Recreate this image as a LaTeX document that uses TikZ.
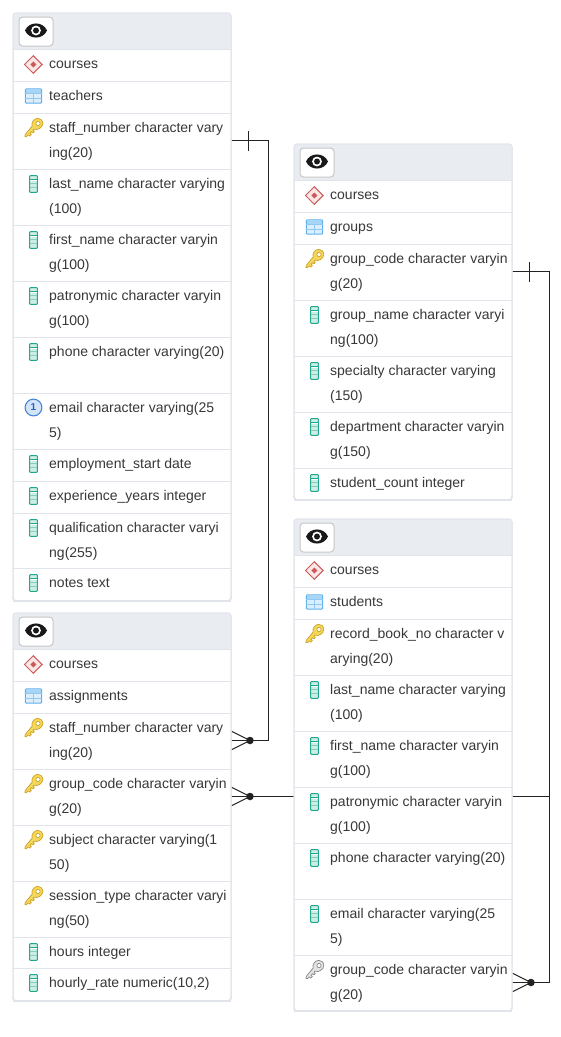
\documentclass[tikz,border=0pt]{standalone}
\usepackage{fontspec}
\setmainfont{Liberation Sans}
\definecolor{bord}{HTML}{E1E4EA}
\definecolor{head}{HTML}{E9ECF1}
\definecolor{txt}{HTML}{383838}
\definecolor{conn}{HTML}{222222}
\definecolor{teal}{HTML}{1FA88C}
\definecolor{tealL}{HTML}{CDEDE5}
\definecolor{redi}{HTML}{CC5A5A}
\definecolor{redL}{HTML}{FBE6E6}
\definecolor{bluei}{HTML}{5DB2EE}
\definecolor{blueL}{HTML}{DCEEFB}
\definecolor{uqb}{HTML}{4A86D8}
\definecolor{uqL}{HTML}{D3E4F8}
\definecolor{uqd}{HTML}{2A5FB8}
\definecolor{goldi}{HTML}{F3D65A}
\definecolor{goldd}{HTML}{CBA52C}
\definecolor{grayi}{HTML}{8A8A8A}
\definecolor{grayL}{HTML}{E2E2E2}
\tikzset{
  x=1pt,y=-1pt,
  rowcell/.style={inner sep=0pt,outer sep=0pt,minimum width=218pt,anchor=north west},
  rowtext/.style={inner sep=0pt,anchor=base west,text=txt,font=\fontsize{14}{14}\selectfont},
  conline/.style={draw=conn,line width=1pt},
  crow/.style={draw=conn,line width=1pt},
  dotn/.style={circle,fill=conn,inner sep=0pt,minimum size=7.5pt},
  tbl/.style={draw=bord,line width=1pt,fill=white,rounded corners=3pt},
}
% icons: #1 x centre, #2 y centre
\newcommand\icocol[2]{\begin{scope}[shift={(#1,#2)}]
 \draw[teal,line width=1pt,fill=tealL,rounded corners=.6pt] (-3.8,-8.3) rectangle (3.8,8.3);
 \fill[white] (-3.3,-4) rectangle (3.3,-2.6);
 \draw[teal,line width=.7pt] (-3.8,-4.6)--(3.8,-4.6);
 \draw[teal!55,line width=.6pt] (-3.8,-.6)--(3.8,-.6) (-3.8,3.4)--(3.8,3.4);
\end{scope}}
\newcommand\icoschema[2]{\begin{scope}[shift={(#1,#2)}]
 \draw[redi,line width=1pt,fill=redL] (-8.8,0)--(0,-8.8)--(8.8,0)--(0,8.8)--cycle;
 \fill[redi] (-3,0)--(0,-3)--(3,0)--(0,3)--cycle;
\end{scope}}
\newcommand\icotable[2]{\begin{scope}[shift={(#1,#2)}]
 \draw[bluei,line width=1pt,fill=blueL,rounded corners=1pt] (-8.2,-7.2) rectangle (8.2,7.2);
 \fill[bluei!55] (-7.7,-6.7) rectangle (7.7,-2.5);
 \draw[bluei!70,line width=.7pt] (-8.2,2)--(8.2,2) (-8.2,-2.5)--(8.2,-2.5) (0,-2.5)--(0,7);
\end{scope}}
\newcommand\icokey[4]{\begin{scope}[shift={(#1,#2)}]
 \draw[#4,line width=.7pt,fill=#3,line join=round]
   (-8.6,6.7)--(-9.2,8.8)--(-7.5,9.2)--(-5.6,7.3)--(-4.3,8.6)--(-2.6,7)--(-3.9,5.7)--(-2.4,4.2)--(-1,5.4)--(.3,4)--(-1,2.7)--(0,1.6)
   .. controls (3.5,3.4) and (8.8,-.2) .. (8.8,-3.8)
   .. controls (8.8,-7.2) and (6.5,-9.2) .. (3.8,-9.2)
   .. controls (-.4,-9.2) and (-3,-4.5) .. (-1.8,-1.6) -- cycle;
 \draw[#4,line width=.7pt,fill=white] (4,-4) circle (2.1);
\end{scope}}
\newcommand\icouniq[2]{\begin{scope}[shift={(#1,#2)}]
 \draw[uqb,line width=1.1pt,fill=uqL] (0,0) circle (8.4);
 \node[inner sep=0pt,text=uqd,font=\fontsize{10}{10}\bfseries\selectfont] (uq) at (0,0) {1};
\end{scope}}
% table box: name, x, y1, yhead, y2
\newcommand\tblbox[5]{
 \path[tbl] (#2,#3) rectangle (#2+218,#5);
 \begin{scope}
 \clip[rounded corners=3pt] (#2,#3) rectangle (#2+218,#5);
 \fill[head] (#2,#3) rectangle (#2+218,#4);
 \end{scope}
 \draw[bord,line width=1pt,rounded corners=3pt] (#2,#3) rectangle (#2+218,#5);
 \draw[bord,line width=1.6pt,rounded corners=3pt] (#2,#5-4)--(#2,#5)--(#2+218,#5)--(#2+218,#5-4);
 \draw[bord,line width=1pt] (#2,#4)--(#2+218,#4);
 \draw[fill=white,draw=black!22,line width=1pt,rounded corners=3.5pt] (#2+6,#3+4) rectangle (#2+40,#3+33);
 \begin{scope}[shift={(#2+23,#3+17.5)}]
  \fill[black!90] (-11,0) .. controls (-7,-9.4) and (7,-9.4) .. (11,0) .. controls (7,9.4) and (-7,9.4) .. (-11,0) -- cycle;
  \fill[white] (0,0) circle (4.9);
  \fill[black!90] (0,0) circle (3);
 \end{scope}
 \coordinate (#1) at (#2,#3);
}
% row: name, x, y1, y2, icon code, line1, line2
\newcommand\tblrow[7]{
 \node[rowcell,minimum height=#4pt-#3pt] (#1) at (#2,#3) {};
 \draw[bord,line width=1pt] (#2,#4)--(#2+218,#4);
 \node[rowtext] (#1-a) at (#2+36,#3+19.7) {#6};
 \node[rowtext] (#1-b) at (#2+36,#3+44.7) {#7};
 \begin{scope}[shift={(#2,#3)}] #5 \end{scope}
}
\newcommand\ICOL{\icocol{20.5}{15}}
\newcommand\ISCH{\icoschema{20.3}{15.5}}
\newcommand\ITAB{\icotable{20.5}{15}}
\newcommand\IKEY{\icokey{21}{14.5}{goldi}{goldd}}
\newcommand\IFK{\icokey{21}{14.5}{grayL}{grayi}}
\newcommand\IUQ{\icouniq{20.5}{14.5}}
\begin{document}
\begin{tikzpicture}
\useasboundingbox (0,0) rectangle (561,1037);
% anchors for connectors (table rows are placed over them)
\path (13,112.5) node[rowcell,minimum height=56pt] (t-staff) {};
\path (13,712.5) node[rowcell,minimum height=56pt] (a-staff) {};
\path (13,768.5) node[rowcell,minimum height=56pt] (a-group) {};
\path (294,243.5) node[rowcell,minimum height=56pt] (g-code) {};
\path (294,954.5) node[rowcell,minimum height=56pt] (s-group) {};
\coordinate (tcorner) at ([xshift=37pt]t-staff.east);
\coordinate (gcorner) at ([xshift=37pt]g-code.east);
\node[dotn] (d1) at ([xshift=19pt]a-staff.east) {};
\node[dotn] (d2) at ([xshift=19pt]a-group.east) {};
\node[dotn] (d3) at ([xshift=19pt]s-group.east) {};
% connectors, behind the tables
\draw[conline] (t-staff.east) -- (tcorner) |- (d1.center);
\draw[conline] (g-code.east) -- (gcorner) |- (d2.center);
\draw[conline] (gcorner) |- (d3.center);
\draw[crow] ([xshift=17pt,yshift=-10pt]t-staff.east) -- ([xshift=17pt,yshift=10pt]t-staff.east);
\draw[crow] ([xshift=17pt,yshift=-10pt]g-code.east) -- ([xshift=17pt,yshift=10pt]g-code.east);
\foreach \a/\d in {a-staff/d1,a-group/d2,s-group/d3}{
 \draw[crow] (\a.east) -- (\d.center);
 \draw[crow] ([yshift=-9.5pt]\a.east) -- (\d.center);
 \draw[crow] ([yshift=9.5pt]\a.east) -- (\d.center);
}
% teachers
\tblbox{teachers}{13}{13}{49}{601}
\tblrow{t1}{13}{49}{81}{\ISCH}{courses}{}
\tblrow{t2}{13}{81}{113}{\ITAB}{teachers}{}
\tblrow{t3}{13}{113}{169}{\IKEY}{staff\_number character vary}{ing(20)}
\tblrow{t4}{13}{169}{225}{\ICOL}{last\_name character varying}{(100)}
\tblrow{t5}{13}{225}{281}{\ICOL}{first\_name character varyin}{g(100)}
\tblrow{t6}{13}{281}{337}{\ICOL}{patronymic character varyin}{g(100)}
\tblrow{t7}{13}{337}{393}{\ICOL}{phone character varying(20)}{}
\tblrow{t8}{13}{393}{449}{\IUQ}{email character varying(25}{5)}
\tblrow{t9}{13}{449}{481}{\ICOL}{employment\_start date}{}
\tblrow{t10}{13}{481}{513}{\ICOL}{experience\_years integer}{}
\tblrow{t11}{13}{513}{568}{\ICOL}{qualification character varyi}{ng(255)}
\tblrow{t12}{13}{568}{601}{\ICOL}{notes text}{}
% assignments
\tblbox{assignments}{13}{613}{649}{1001}
\tblrow{a1}{13}{649}{681}{\ISCH}{courses}{}
\tblrow{a2}{13}{681}{713}{\ITAB}{assignments}{}
\tblrow{a3}{13}{713}{769}{\IKEY}{staff\_number character vary}{ing(20)}
\tblrow{a4}{13}{769}{825}{\IKEY}{group\_code character varyin}{g(20)}
\tblrow{a5}{13}{825}{881}{\IKEY}{subject character varying(1}{50)}
\tblrow{a6}{13}{881}{937}{\IKEY}{session\_type character varyi}{ng(50)}
\tblrow{a7}{13}{937}{968}{\ICOL}{hours integer}{}
\tblrow{a8}{13}{968}{1001}{\ICOL}{hourly\_rate numeric(10,2)}{}
% groups
\tblbox{groups}{294}{144}{180}{500}
\tblrow{g1}{294}{180}{212}{\ISCH}{courses}{}
\tblrow{g2}{294}{212}{244}{\ITAB}{groups}{}
\tblrow{g3}{294}{244}{300}{\IKEY}{group\_code character varyin}{g(20)}
\tblrow{g4}{294}{300}{356}{\ICOL}{group\_name character varyi}{ng(100)}
\tblrow{g5}{294}{356}{412}{\ICOL}{specialty character varying}{(150)}
\tblrow{g6}{294}{412}{468}{\ICOL}{department character varyin}{g(150)}
\tblrow{g7}{294}{468}{500}{\ICOL}{student\_count integer}{}
% students
\tblbox{students}{294}{519}{555}{1011}
\tblrow{s1}{294}{555}{587}{\ISCH}{courses}{}
\tblrow{s2}{294}{587}{619}{\ITAB}{students}{}
\tblrow{s3}{294}{619}{675}{\IKEY}{record\_book\_no character v}{arying(20)}
\tblrow{s4}{294}{675}{731}{\ICOL}{last\_name character varying}{(100)}
\tblrow{s5}{294}{731}{787}{\ICOL}{first\_name character varyin}{g(100)}
\tblrow{s6}{294}{787}{843}{\ICOL}{patronymic character varyin}{g(100)}
\tblrow{s7}{294}{843}{899}{\ICOL}{phone character varying(20)}{}
\tblrow{s8}{294}{899}{955}{\ICOL}{email character varying(25}{5)}
\tblrow{s9}{294}{955}{1011}{\IFK}{group\_code character varyin}{g(20)}
\end{tikzpicture}
\end{document}
